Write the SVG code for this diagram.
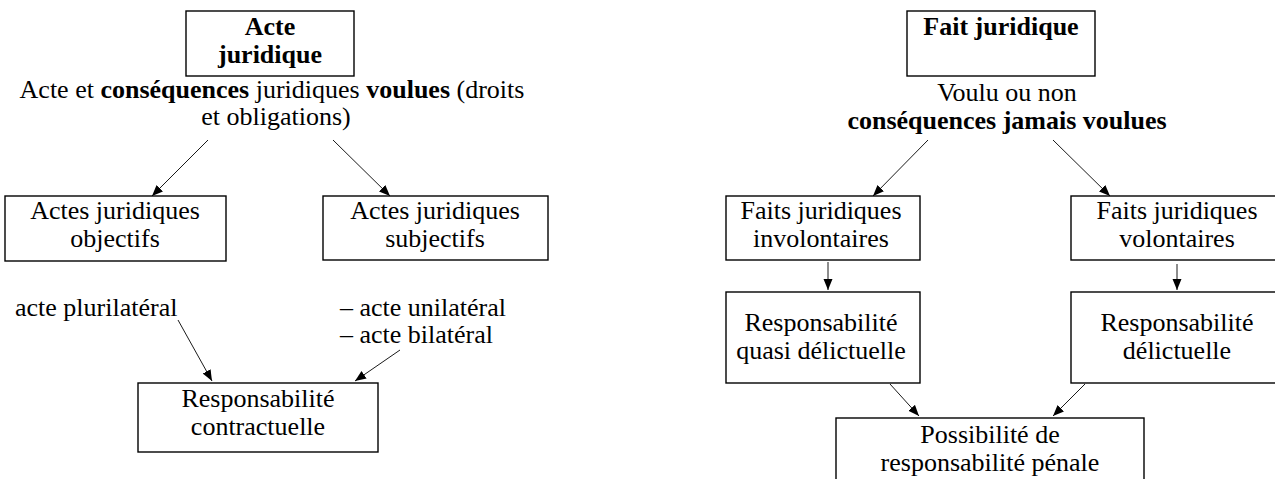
<svg xmlns="http://www.w3.org/2000/svg" width="1275" height="479" viewBox="0 0 1275 479">
<style>
text{font-family:"Liberation Serif","Times New Roman",serif;font-size:26px;fill:#000}
.c{text-anchor:middle}
.b{font-weight:bold}
.box{fill:#fff;stroke:#000;stroke-width:1.4}
.ln{stroke:#000;stroke-width:0.9;fill:none;marker-end:url(#ah)}
</style>
<defs>
<marker id="ah" markerUnits="userSpaceOnUse" markerWidth="12" markerHeight="10" refX="11" refY="4.5" orient="auto">
<path d="M0,0 L11,4.5 L0,9 z" fill="#000"/>
</marker>
</defs>
<g id="connectors">
<line class="ln" x1="208" y1="140" x2="152" y2="196"/>
<line class="ln" x1="333" y1="140" x2="390" y2="196"/>
<line class="ln" x1="178" y1="320" x2="212" y2="381"/>
<line class="ln" x1="400" y1="350" x2="355" y2="381"/>
<line class="ln" x1="928" y1="140" x2="873" y2="196"/>
<line class="ln" x1="1053" y1="140" x2="1110" y2="196"/>
<line class="ln" x1="828" y1="262" x2="828" y2="290"/>
<line class="ln" x1="1177" y1="264" x2="1177" y2="290"/>
<line class="ln" x1="890" y1="384" x2="919" y2="416"/>
<line class="ln" x1="1085" y1="384" x2="1053" y2="416"/>
</g>
<g id="acte-juridique">
<rect class="box" x="186" y="11" width="168" height="65"/>
<text class="c b" x="270" y="35">Acte</text>
<text class="c b" x="270" y="63">juridique</text>
</g>
<g id="acte-desc">
<text class="c" x="272" y="98">Acte et <tspan class="b">conséquences</tspan> juridiques <tspan class="b">voulues</tspan> (droits</text>
<text class="c" x="276" y="125">et obligations)</text>
</g>
<g id="actes-objectifs">
<rect class="box" x="5" y="196" width="221" height="65"/>
<text class="c" x="115" y="219">Actes juridiques</text>
<text class="c" x="115" y="247">objectifs</text>
</g>
<g id="actes-subjectifs">
<rect class="box" x="323" y="196" width="225" height="64"/>
<text class="c" x="435" y="219">Actes juridiques</text>
<text class="c" x="435" y="247">subjectifs</text>
</g>
<g id="plurilateral">
<text x="15" y="316">acte plurilatéral</text>
</g>
<g id="unibilateral">
<text x="340" y="316">– acte unilatéral</text>
<text x="340" y="343">– acte bilatéral</text>
</g>
<g id="resp-contractuelle">
<rect class="box" x="138" y="383" width="240" height="69"/>
<text class="c" x="258" y="407">Responsabilité</text>
<text class="c" x="258" y="435">contractuelle</text>
</g>
<g id="fait-juridique">
<rect class="box" x="907" y="11" width="188" height="65"/>
<text class="c b" x="1001" y="35">Fait juridique</text>
</g>
<g id="fait-desc">
<text class="c" x="1007" y="101">Voulu ou non</text>
<text class="c b" x="1007" y="129">conséquences jamais voulues</text>
</g>
<g id="faits-involontaires">
<rect class="box" x="726" y="196" width="194" height="64"/>
<text class="c" x="821" y="219">Faits juridiques</text>
<text class="c" x="821" y="247">involontaires</text>
</g>
<g id="faits-volontaires">
<rect class="box" x="1071" y="196" width="212" height="64"/>
<text class="c" x="1177" y="219">Faits juridiques</text>
<text class="c" x="1177" y="247">volontaires</text>
</g>
<g id="resp-quasi">
<rect class="box" x="726" y="292" width="194" height="91"/>
<text class="c" x="821" y="331">Responsabilité</text>
<text class="c" x="821" y="359">quasi délictuelle</text>
</g>
<g id="resp-delictuelle">
<rect class="box" x="1071" y="292" width="212" height="91"/>
<text class="c" x="1177" y="331">Responsabilité</text>
<text class="c" x="1177" y="359">délictuelle</text>
</g>
<g id="possibilite">
<rect class="box" x="836" y="418" width="308" height="70"/>
<text class="c" x="990" y="443">Possibilité de</text>
<text class="c" x="990" y="471">responsabilité pénale</text>
</g>
</svg>
